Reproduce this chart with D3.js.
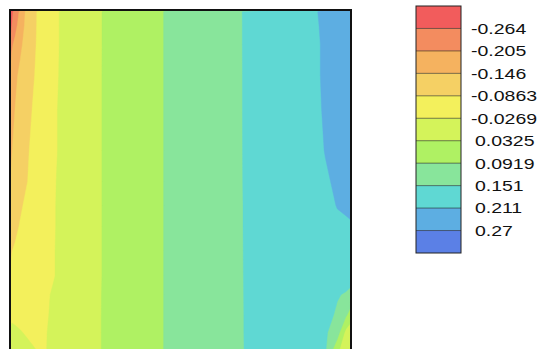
<!DOCTYPE html>
<html>
<head>
<meta charset="utf-8">
<script src="https://cdn.jsdelivr.net/npm/d3@7"></script>
<style>
  body { margin: 0; background: #ffffff; }
  svg { display: block; }
  text { font-family: "Liberation Sans", Arial, Helvetica, sans-serif; }
</style>
</head>
<body>
<svg id="chart" width="540" height="349"></svg>
<script>
// ---- data (field sampled on a grid, units: % of domain) ----
const xGrid = [0.5, 1.5, 3, 4.5, 6.5, 9.5, 12.5, 16, 21, 28, 37, 46, 56, 67, 79, 88, 92.5, 96, 98.5, 99.7];
const yGrid = [0.5, 4.5, 10, 19, 29, 41, 50, 57, 63, 70, 77.5, 83, 89, 94, 99.5];

const fieldValues = [
  [-0.277, -0.243, -0.193, -0.144, -0.103, -0.066, -0.039, -0.017, 0.006, 0.037, 0.066, 0.095, 0.120, 0.148, 0.181, 0.205, 0.217, 0.226, 0.233, 0.236],
  [-0.266, -0.224, -0.178, -0.139, -0.102, -0.066, -0.039, -0.017, 0.006, 0.037, 0.066, 0.095, 0.120, 0.148, 0.180, 0.204, 0.216, 0.226, 0.232, 0.236],
  [-0.214, -0.191, -0.157, -0.131, -0.099, -0.066, -0.039, -0.017, 0.006, 0.037, 0.066, 0.095, 0.120, 0.148, 0.180, 0.203, 0.215, 0.225, 0.232, 0.235],
  [-0.178, -0.157, -0.135, -0.117, -0.093, -0.065, -0.038, -0.016, 0.007, 0.037, 0.066, 0.095, 0.120, 0.148, 0.179, 0.203, 0.215, 0.224, 0.231, 0.234],
  [-0.166, -0.145, -0.128, -0.110, -0.086, -0.061, -0.035, -0.015, 0.007, 0.037, 0.066, 0.095, 0.120, 0.148, 0.179, 0.202, 0.214, 0.223, 0.230, 0.233],
  [-0.148, -0.135, -0.116, -0.097, -0.078, -0.056, -0.035, -0.015, 0.007, 0.037, 0.066, 0.095, 0.120, 0.148, 0.178, 0.200, 0.212, 0.219, 0.224, 0.226],
  [-0.140, -0.128, -0.110, -0.092, -0.075, -0.054, -0.032, -0.015, 0.007, 0.037, 0.066, 0.095, 0.120, 0.148, 0.177, 0.198, 0.208, 0.215, 0.219, 0.221],
  [-0.122, -0.110, -0.093, -0.080, -0.068, -0.050, -0.031, -0.015, 0.007, 0.037, 0.066, 0.095, 0.120, 0.148, 0.175, 0.195, 0.204, 0.212, 0.215, 0.217],
  [-0.108, -0.097, -0.083, -0.075, -0.064, -0.047, -0.031, -0.015, 0.007, 0.037, 0.066, 0.095, 0.120, 0.148, 0.175, 0.194, 0.202, 0.206, 0.207, 0.208],
  [-0.088, -0.081, -0.074, -0.067, -0.058, -0.044, -0.030, -0.015, 0.007, 0.037, 0.066, 0.095, 0.120, 0.148, 0.174, 0.192, 0.198, 0.200, 0.199, 0.198],
  [-0.075, -0.071, -0.066, -0.060, -0.052, -0.040, -0.030, -0.015, 0.007, 0.037, 0.066, 0.095, 0.120, 0.148, 0.173, 0.189, 0.190, 0.182, 0.172, 0.165],
  [-0.055, -0.053, -0.050, -0.047, -0.043, -0.036, -0.024, -0.010, 0.010, 0.037, 0.066, 0.095, 0.120, 0.148, 0.172, 0.183, 0.175, 0.154, 0.147, 0.143],
  [-0.034, -0.035, -0.037, -0.038, -0.039, -0.035, -0.022, -0.008, 0.011, 0.037, 0.066, 0.095, 0.120, 0.148, 0.171, 0.177, 0.164, 0.145, 0.100, 0.070],
  [-0.018, -0.021, -0.025, -0.029, -0.034, -0.032, -0.021, -0.008, 0.011, 0.037, 0.066, 0.095, 0.120, 0.148, 0.171, 0.172, 0.158, 0.120, 0.015, -0.003],
  [-0.005, -0.008, -0.012, -0.017, -0.023, -0.031, -0.021, -0.008, 0.011, 0.037, 0.066, 0.095, 0.120, 0.148, 0.170, 0.170, 0.155, 0.040, 0.000, -0.010]
];

const levels = [-0.264, -0.205, -0.146, -0.0863, -0.0269, 0.0325, 0.0919, 0.151, 0.211, 0.27];
const levelLabels = ["-0.264", "-0.205", "-0.146", "-0.0863", "-0.0269", "0.0325", "0.0919", "0.151", "0.211", "0.27"];
const bandColors = ["#f25c5c", "#f38c5f", "#f5b25f", "#f5d064", "#f3f05c", "#d4f35a", "#aff163", "#88e59b", "#5fd8d3", "#5daee2", "#5b80e6"];

// ---- layout ----
const svg = d3.select("#chart");
const plot = { left: 10, top: 10, right: 351, bottom: 353 };
const legend = { left: 416, right: 461, top: 6, bottom: 253, labelX: 471 };

const nx = xGrid.length, ny = yGrid.length;
const values = fieldValues.flat();

// grid coordinate -> data units (non-uniform grid) -> pixels
const gx = d3.scaleLinear().domain([0, ...xGrid.map((d, i) => i + 0.5), nx]).range([0, ...xGrid, 100]);
const gy = d3.scaleLinear().domain([0, ...yGrid.map((d, i) => i + 0.5), ny]).range([0, ...yGrid, 100]);
const x = d3.scaleLinear().domain([0, 100]).range([plot.left, plot.right]);
const y = d3.scaleLinear().domain([0, 100]).range([plot.top, plot.bottom]);

const path = d3.geoPath(d3.geoTransform({
  point: function(px, py) { this.stream.point(x(gx(px)), y(gy(py))); }
}));

const contourThresholds = [d3.min(values), ...levels];
const contours = d3.contours().size([nx, ny]).thresholds(contourThresholds)(values);

svg.append("clipPath").attr("id", "plotClip")
  .append("rect")
  .attr("x", plot.left).attr("y", plot.top)
  .attr("width", plot.right - plot.left).attr("height", plot.bottom - plot.top);

svg.append("g").attr("clip-path", "url(#plotClip)")
  .selectAll("path")
  .data(contours)
  .join("path")
  .attr("d", path)
  .attr("fill", (d, i) => bandColors[i])
  .attr("stroke", (d, i) => bandColors[i])
  .attr("stroke-width", 0.4);

svg.append("rect")
  .attr("x", plot.left).attr("y", plot.top)
  .attr("width", plot.right - plot.left).attr("height", plot.bottom - plot.top)
  .attr("fill", "none").attr("stroke", "#111").attr("stroke-width", 2);

// ---- legend ----
const ly = d3.scaleLinear().domain([0, bandColors.length]).range([legend.top, legend.bottom]);
const lg = svg.append("g");
lg.selectAll("rect.band")
  .data(bandColors)
  .join("rect")
  .attr("class", "band")
  .attr("x", legend.left).attr("width", legend.right - legend.left)
  .attr("y", (d, i) => ly(i)).attr("height", (d, i) => ly(i + 1) - ly(i))
  .attr("fill", d => d);

lg.selectAll("line.sep")
  .data(levels)
  .join("line")
  .attr("class", "sep")
  .attr("x1", legend.left).attr("x2", legend.right)
  .attr("y1", (d, i) => ly(i + 1)).attr("y2", (d, i) => ly(i + 1))
  .attr("stroke", "rgba(0,0,0,0.5)").attr("stroke-width", 1);

lg.append("rect")
  .attr("x", legend.left).attr("y", legend.top)
  .attr("width", legend.right - legend.left).attr("height", legend.bottom - legend.top)
  .attr("fill", "none").attr("stroke", "#222").attr("stroke-width", 1);

lg.selectAll("g.lab")
  .data(levelLabels)
  .join("g")
  .attr("class", "lab")
  .attr("transform", (d, i) => `translate(${legend.labelX},${ly(i + 1)}) scale(1.3,1)`)
  .append("text")
  .attr("dx", d => d.startsWith("-") ? 0 : "0.2em")
  .attr("dy", "0.36em")
  .attr("font-size", 15)
  .attr("fill", "#111")
  .text(d => d);
</script>
</body>
</html>
